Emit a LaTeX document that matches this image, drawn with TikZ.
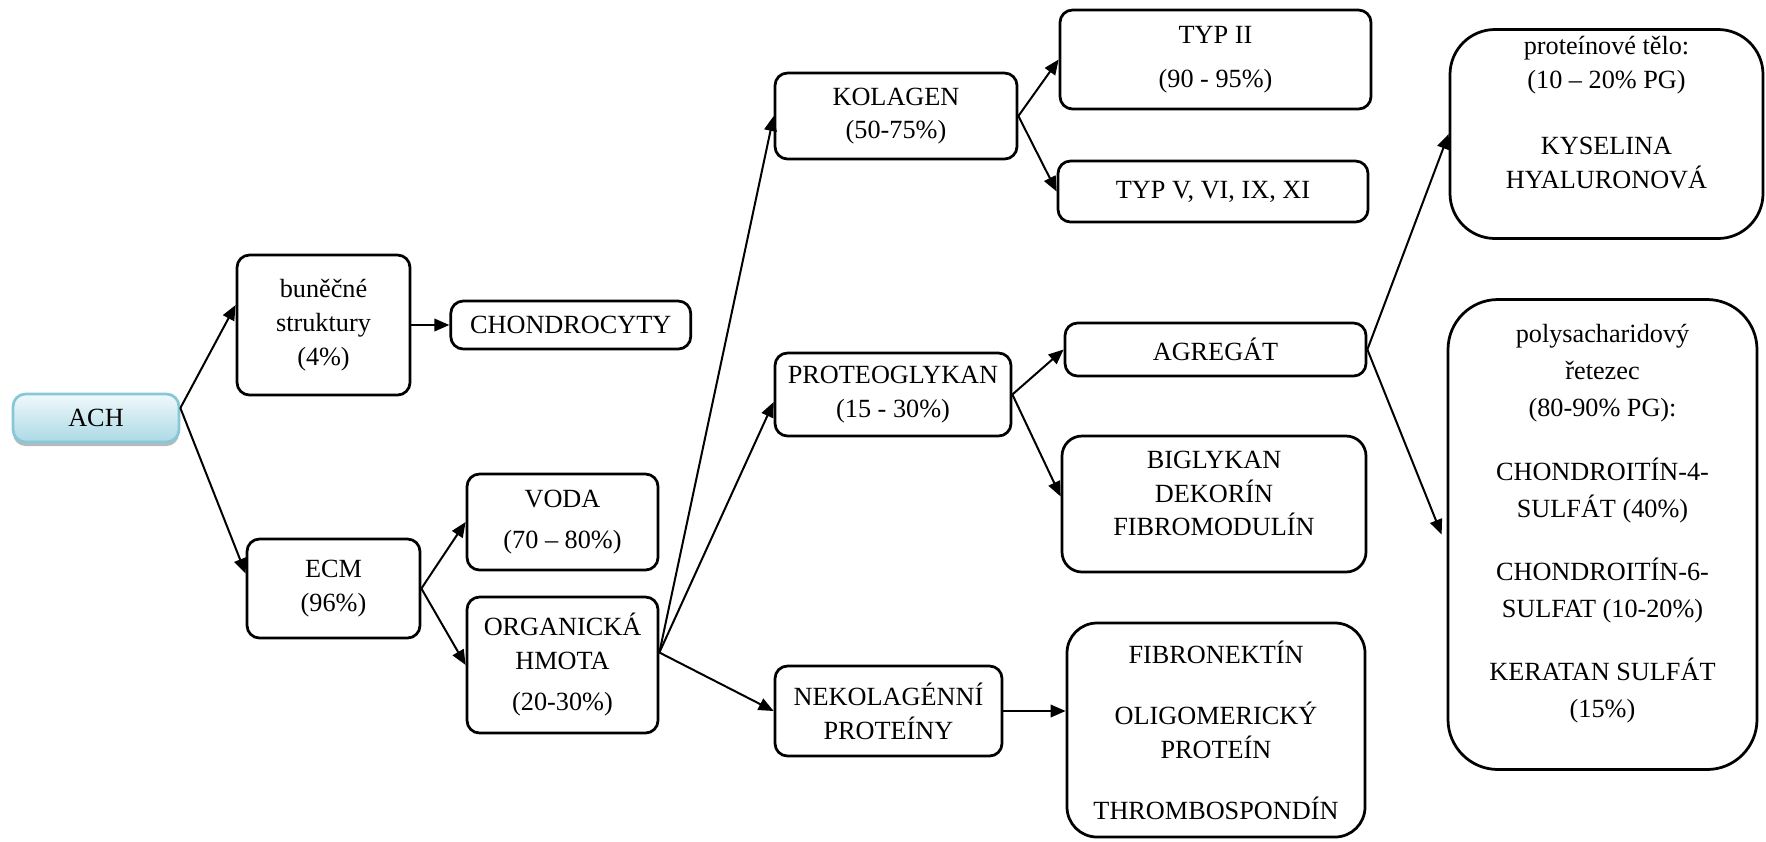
\documentclass[tikz,border=0pt]{standalone}
\usepackage{fontspec}
\setmainfont{Liberation Serif}
\usepackage{xcolor}
\usetikzlibrary{arrows.meta, positioning, shadows}

\definecolor{achtop}{RGB}{240,249,251}
\definecolor{achbot}{RGB}{172,217,229}
\definecolor{achline}{RGB}{135,200,216}

\begin{document}
\begin{tikzpicture}[
    x=0.4pt, y=-0.4pt,
    box/.style = {
        rectangle, draw=black, line width=1.1pt,
        rounded corners=5pt, align=center,
        font=\rmfamily\fontsize{10.5}{13.5}\selectfont,
        inner sep=2pt
    },
    sz/.style 2 args = {minimum width=#1*0.4pt, minimum height=#2*0.4pt},
    big/.style = {box, rounded corners=#1},
    root/.style = {
        box, draw=achline, top color=achtop, bottom color=achbot,
        drop shadow={shadow xshift=0pt, shadow yshift=-1.6pt, fill=gray!55, opacity=1}
    },
    arr/.style = {-{Triangle[length=6pt, width=5pt]}, line width=0.8pt}
]
\useasboundingbox (0,0) rectangle (1766,841);

%% Column 1
\node[root, sz={166}{48}] (ach) at (96,418) {ACH};

%% Column 2
\node[box, sz={173}{140}] (bun) at (323.5,325) {buněčné\\struktury\\(4\%)};
\node[box, sz={240}{48}, right=15.2pt of bun] (chon) {CHONDROCYTY};
\node[box, sz={173}{99}]  (ecm) at (333.5,588.5) {ECM\\(96\%)};

%% Column 3
\node[box, sz={191}{96}]  (voda) at (562.5,522) {VODA\\[3pt](70 -- 80\%)};
\node[box, sz={191}{136}] (org)  at (562.5,665) {ORGANICKÁ\\HMOTA\\[3pt](20-30\%)};

%% Column 4
\node[box, sz={242}{86}] (kol)  at (896,116)   {KOLAGEN\\(50-75\%)};
\node[box, sz={236}{83}] (pg)   at (893,394.5) {PROTEOGLYKAN\\(15 - 30\%)};
\node[box, sz={227}{90}] (neko) at (888.5,711) {NEKOLAGÉNNÍ\\PROTEÍNY};

%% Column 5
\node[box, sz={311}{99}]  (typa) at (1215.5,59.5)  {TYP II\\[4pt](90 - 95\%)};
\node[box, sz={310}{61}]  (typb) at (1213,191.5)   {TYP V, VI, IX, XI};
\node[box, sz={301}{53}]  (agr)  at (1215.5,349.5) {AGREGÁT};
\node[big=8pt, sz={304}{136}] (bgl) at (1214,504)  {BIGLYKAN\\DEKORÍN\\FIBROMODULÍN\\[-5pt]\mbox{}};
\node[big=12pt, sz={298}{214}] (fib) at (1216,730) {FIBRONEKTÍN\\[11pt]OLIGOMERICKÝ\\PROTEÍN\\[11pt]THROMBOSPONDÍN};

%% Column 6
\node[big=18pt, sz={313}{209}] (pt) at (1606.5,134)
    {proteínové tělo:\\(10 -- 20\% PG)\\[13pt]KYSELINA\\HYALURONOVÁ\\[4pt]\mbox{}};
\node[big=20pt, sz={309}{470}, font=\rmfamily\fontsize{10.5}{14.8}\selectfont] (ps) at (1602.5,534.5)
    {polysacharidový\\řetezec\\(80-90\% PG):\\[10.5pt]CHONDROITÍN-4-\\SULFÁT (40\%)\\[10.5pt]CHONDROITÍN-6-\\SULFAT (10-20\%)\\[10.5pt]KERATAN SULFÁT\\(15\%)\\[-4pt]\mbox{}};

%% Arrows
\coordinate (achout) at ([yshift=4pt]ach.east);
\coordinate (orgout) at ([yshift=5pt]org.east);
\draw[arr] (achout) -- ([yshift=8pt]bun.west);
\draw[arr] (achout) -- ([yshift=6pt]ecm.west);
\draw[arr] (bun) -- (chon);
\draw[arr] (ecm.east) -- (voda.west);
\draw[arr] (ecm.east) -- (org.west);
\draw[arr] (orgout) -- (kol.west);
\draw[arr] (orgout) -- ([yshift=-3pt]pg.west);
\draw[arr] (orgout) -- (neko.west);
\draw[arr] (kol.east) -- (typa.west);
\draw[arr] (kol.east) -- (typb.west);
\draw[arr] (pg.east) -- (agr.west);
\draw[arr] (pg.east) -- ([yshift=3pt]bgl.west);
\draw[arr] (neko.east) -- (neko.east -| fib.west);
\draw[arr] (agr.east) -- (pt.west);
\draw[arr] (agr.east) -- ([xshift=-2pt]ps.west);

\end{tikzpicture}
\end{document}
